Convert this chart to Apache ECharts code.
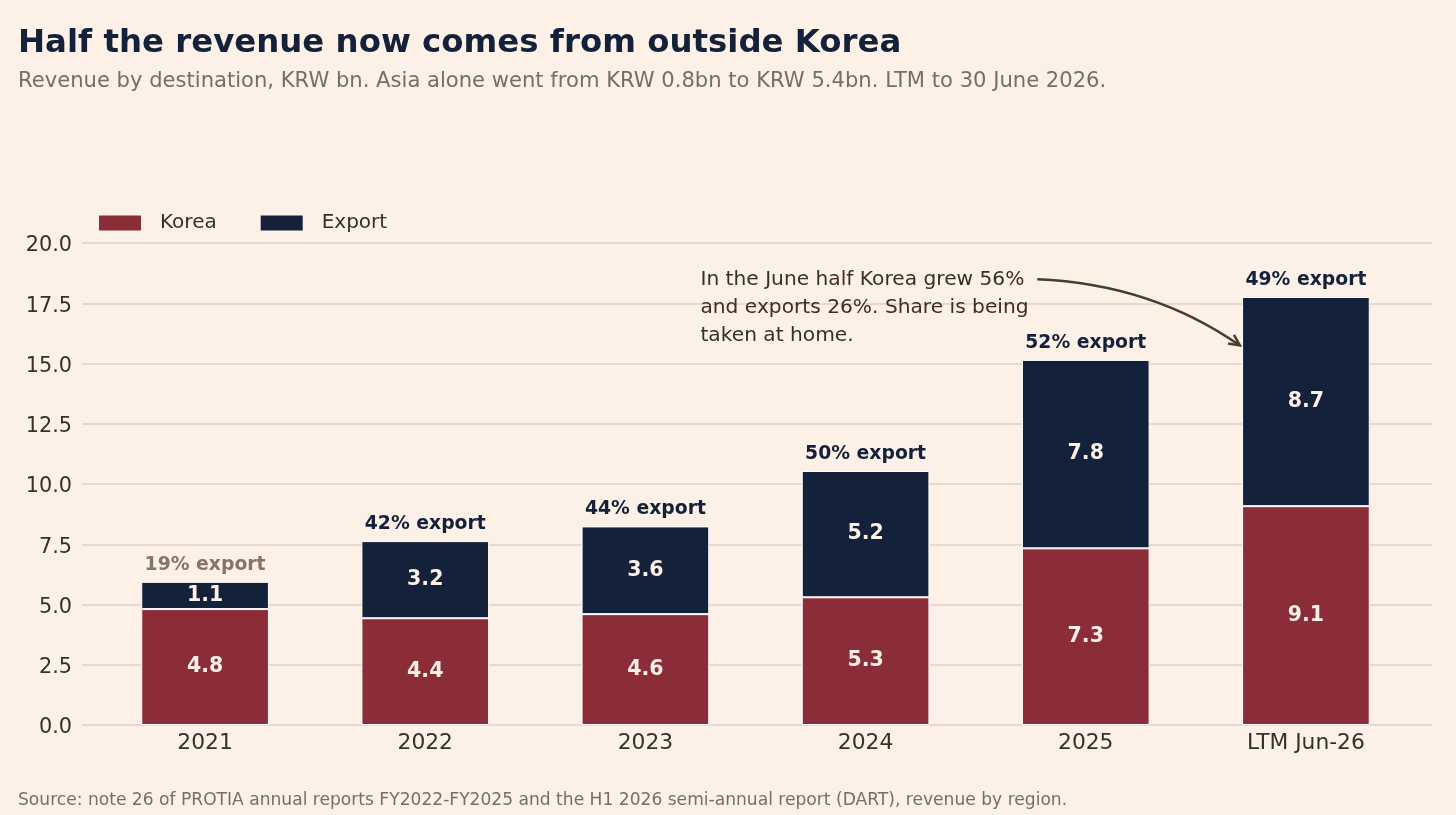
<!DOCTYPE html>
<html>
<head>
<meta charset="utf-8" />
<title>Half the revenue now comes from outside Korea</title>
<script src="https://cdn.jsdelivr.net/npm/echarts@6/dist/echarts.min.js"></script>
<style>
  html, body { margin: 0; padding: 0; background: #fdf0e6; }
  #main { width: 1456px; height: 815px; }
</style>
</head>
<body>
<div id="main"></div>
<script type="text/javascript">
// data (KRW bn)
var years = ['2021', '2022', '2023', '2024', '2025', 'LTM Jun-26'];
var korea = [4.81, 4.43, 4.6, 5.3, 7.33, 9.08];
var exportRev = [1.13, 3.2, 3.64, 5.24, 7.82, 8.68];
var exportShare = ['19%', '42%', '44%', '50%', '52%', '49%'];
var yTicks = [0, 2.5, 5, 7.5, 10, 12.5, 15, 17.5, 20];

var bg = '#fdf0e6';
var navy = '#13213a';
var red = '#8b2d38';
var ink = '#3d2e22';
var muted = '#7a6e62';
var font = '"DejaVu Sans", sans-serif';

var totals = korea.map(function (k, i) { return k + exportRev[i]; });

var myChart = echarts.init(document.getElementById('main'));

var option = {
    backgroundColor: bg,
    animation: false,
    textStyle: { fontFamily: font },
    title: [{
        text: 'Half the revenue now comes from outside Korea',
        left: 18, top: 28, padding: 0,
        textStyle: { color: navy, fontSize: 32.4, fontWeight: 'bold', fontFamily: font }
    }, {
        text: 'Revenue by destination, KRW bn. Asia alone went from KRW 0.8bn to KRW 5.4bn. LTM to 30 June 2026.',
        left: 18, top: 71, padding: 0,
        textStyle: { color: muted, fontSize: 21.1, fontWeight: 'normal', fontFamily: font }
    }, {
        text: 'Source: note 26 of PROTIA annual reports FY2022-FY2025 and the H1 2026 semi-annual report (DART), revenue by region.',
        left: 18, top: 792, padding: 0,
        textStyle: { color: muted, fontSize: 17.1, fontWeight: 'normal', fontFamily: font }
    }],
    legend: {
        left: 99, top: 213, padding: 0,
        itemWidth: 42, itemHeight: 15, itemGap: 44,
        icon: 'rect',
        data: ['Korea', 'Export'],
        textStyle: { color: ink, fontSize: 20, fontFamily: font, padding: [0, 0, 0, 14] },
        itemStyle: { borderWidth: 0 }
    },
    grid: [
        { left: 82, right: 24, top: 243, bottom: 90 },
        { left: 95, right: 40, top: 243, bottom: 90 }
    ],
    xAxis: [{
        gridIndex: 0, type: 'value', show: false, min: 0, max: 1
    }, {
        gridIndex: 1, type: 'category', data: years,
        axisLine: { show: false }, axisTick: { show: false },
        axisLabel: { color: ink, fontSize: 21.8, fontFamily: font, margin: 7 }
    }],
    yAxis: [{
        gridIndex: 0, type: 'value', min: 0, max: 20, interval: 2.5,
        axisLine: { show: false }, axisTick: { show: false },
        splitLine: { show: true, lineStyle: { color: '#e3d2c2', width: 1.5 } },
        axisLabel: {
            margin: 10,
            formatter: function (v) { return '{t|' + v.toFixed(1) + '}'; },
            rich: {
                t: { color: ink, fontSize: 20.8, fontFamily: font, padding: [6, 0, 0, 0] }
            }
        }
    }, {
        gridIndex: 1, type: 'value', min: 0, max: 20, interval: 2.5, show: false
    }],
    series: [{
        name: 'Korea', type: 'bar', stack: 'rev',
        xAxisIndex: 1, yAxisIndex: 1,
        barWidth: '58%',
        data: korea,
        itemStyle: { color: red, borderColor: '#ffffff', borderWidth: 1 },
        label: {
            show: true, position: 'inside', color: '#fdf0e6',
            fontSize: 20.5, fontWeight: 'bold', fontFamily: font,
            formatter: function (p) { return p.value.toFixed(1); }
        }
    }, {
        name: 'Export', type: 'bar', stack: 'rev',
        xAxisIndex: 1, yAxisIndex: 1,
        barWidth: '58%',
        data: exportRev,
        itemStyle: { color: navy, borderColor: '#ffffff', borderWidth: 1 },
        label: {
            show: true, position: 'inside', color: '#fdf0e6',
            fontSize: 20.5, fontWeight: 'bold', fontFamily: font,
            formatter: function (p) { return p.value.toFixed(1); }
        }
    }, {
        // share labels sitting above each stack
        name: 'share', type: 'scatter',
        xAxisIndex: 1, yAxisIndex: 1,
        symbolSize: 1, silent: true,
        itemStyle: { opacity: 1, color: 'rgba(0,0,0,0)' },
        data: totals.map(function (t, i) { return [i, t]; }),
        label: {
            show: true, position: 'top', distance: 7,
            fontSize: 18.8, fontWeight: 'bold', fontFamily: font,
            formatter: function (p) { return exportShare[p.dataIndex] + ' export'; },
            color: navy
        },
        labelLayout: { hideOverlap: false }
    }]
};
// the first share label is muted in the original
option.series[2].data[0] = {
    value: [0, totals[0]],
    label: { color: '#857564' }
};

myChart.setOption(option);

// annotation, anchored in data space (category index, value)
function px(x, y) {
    var a = myChart.convertToPixel({ xAxisIndex: 1, yAxisIndex: 1 }, [Math.floor(x), y]);
    var b = myChart.convertToPixel({ xAxisIndex: 1, yAxisIndex: 1 }, [Math.floor(x) + 1, y]);
    var f = x - Math.floor(x);
    return [a[0] + (b[0] - a[0]) * f, a[1]];
}
var noteAt = px(2.25, 19.05);
var arrowFrom = px(3.78, 18.5);
var arrowCtrl = px(4.3, 18.3);
var arrowTo = px(4.7, 15.75);

var ang = Math.atan2(arrowTo[1] - arrowCtrl[1], arrowTo[0] - arrowCtrl[0]);
var hl = 12, hw = 0.45;
var head = [
    [arrowTo[0] - hl * Math.cos(ang - hw), arrowTo[1] - hl * Math.sin(ang - hw)],
    arrowTo,
    [arrowTo[0] - hl * Math.cos(ang + hw), arrowTo[1] - hl * Math.sin(ang + hw)]
];

myChart.setOption({
    graphic: [{
        type: 'text', left: noteAt[0], top: noteAt[1],
        style: {
            text: 'In the June half Korea grew 56%\nand exports 26%. Share is being\ntaken at home.',
            fill: ink, fontSize: 20.2, fontFamily: font, lineHeight: 28
        }
    }, {
        type: 'bezierCurve',
        shape: {
            x1: arrowFrom[0], y1: arrowFrom[1],
            x2: arrowTo[0], y2: arrowTo[1],
            cpx1: arrowCtrl[0], cpy1: arrowCtrl[1]
        },
        style: { stroke: '#4a3b2c', lineWidth: 2.5, fill: null }
    }, {
        type: 'polyline',
        shape: { points: head },
        style: { stroke: '#4a3b2c', lineWidth: 2.5, fill: null }
    }]
});
</script>
</body>
</html>
